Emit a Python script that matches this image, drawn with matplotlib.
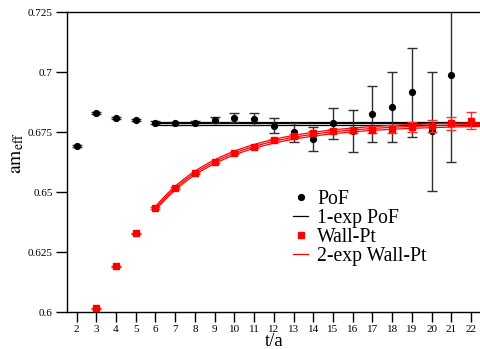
import numpy as np
import matplotlib
matplotlib.use("Agg")
import matplotlib.pyplot as plt
from matplotlib.lines import Line2D

plt.rcParams['font.family'] = ['Liberation Serif', 'DejaVu Serif']
plt.rcParams['mathtext.fontset'] = 'stix'

# PoF data
t_pof = [2, 3, 4, 5, 6, 7, 8, 9, 10, 11, 12, 13, 14, 15, 16, 17, 18, 19, 20, 21]
m_pof = [0.6693, 0.6828, 0.6807, 0.6800, 0.6789, 0.6786, 0.6786, 0.6799, 0.6810, 0.6804,
         0.6776, 0.6749, 0.6719, 0.6786, 0.6755, 0.6825, 0.6855, 0.6915, 0.6754, 0.6986]
e_pof = [0.0004, 0.0004, 0.0004, 0.0004, 0.0005, 0.0006, 0.0008, 0.0013, 0.0020, 0.0024,
         0.0031, 0.0040, 0.0050, 0.0064, 0.0087, 0.0117, 0.0147, 0.0184, 0.0248, 0.0360]

# Wall-Pt data
t_wall = [3, 4, 5, 6, 7, 8, 9, 10, 11, 12, 13, 14, 15, 16, 17, 18, 19, 20, 21, 22]
m_wall = [0.6015, 0.6190, 0.6328, 0.6433, 0.6516, 0.6578, 0.6625, 0.6661, 0.6689, 0.6715,
          0.6735, 0.6747, 0.6754, 0.6757, 0.6760, 0.6763, 0.6770, 0.6775, 0.6786, 0.6797]
e_wall = [0.0003, 0.0003, 0.0003, 0.0003, 0.0003, 0.0003, 0.0004, 0.0004, 0.0005, 0.0006,
          0.0007, 0.0008, 0.0009, 0.0011, 0.0013, 0.0016, 0.0020, 0.0023, 0.0028, 0.0036]

# 1-exp PoF fit (constant) over t = 6..22.5
fit1_range = (6, 22.5)
fit1_E0, fit1_err = 0.6786, 0.0007

# 2-exp Wall-Pt fit parameters over t = 6..22.5
fit2_range = (6, 22.5)
fit2_E0, fit2_err, fit2_dE, fit2_r = 0.6787, 0.0008, 0.24, -0.612

x_ticks = list(range(2, 23))
y_ticks = [0.6, 0.625, 0.65, 0.675, 0.7, 0.725]
y_ticklabels = ['0.6', '0.625', '0.65', '0.675', '0.7', '0.725']
legend_labels = ['PoF', '1-exp PoF', 'Wall-Pt', '2-exp Wall-Pt']

fig = plt.figure(figsize=(4.8, 3.49), dpi=100)
ax = fig.add_axes([66.7/480, 37/349, (481-66.7)/480, 300/349])

ax.errorbar(t_pof, m_pof, yerr=e_pof, fmt='o', color='black', ms=4.2,
            ecolor='#303030', elinewidth=1.0, capsize=3.5, capthick=1.0, zorder=3)
for s in (-1, 0, 1):
    ax.plot(fit1_range, [fit1_E0 + s*fit1_err]*2, color='black', lw=0.9, zorder=2)

ax.errorbar(t_wall, m_wall, yerr=e_wall, fmt='s', color='#ff0000', ms=4.2,
            ecolor='#ff3030', elinewidth=1.0, capsize=3.5, capthick=1.0, zorder=4)
tt = np.linspace(fit2_range[0], fit2_range[1], 300)
def meff(t, E0):
    return E0 + np.log((1 + fit2_r*np.exp(-fit2_dE*t)) / (1 + fit2_r*np.exp(-fit2_dE*(t+1))))
for s in (-1, 0, 1):
    ax.plot(tt, meff(tt, fit2_E0 + s*fit2_err), color='#ff0000', lw=0.9, zorder=3)

handles = [Line2D([], [], marker='o', ls='none', color='black', ms=4.2),
           Line2D([], [], color='black', lw=0.9),
           Line2D([], [], marker='s', ls='none', color='#ff0000', ms=4.2),
           Line2D([], [], color='#ff0000', lw=0.9)]
ax.legend(handles, legend_labels, loc='upper left', bbox_to_anchor=(0.512, 0.452),
          frameon=False, fontsize=14.2, handlelength=0.8, handletextpad=0.45,
          labelspacing=0.0, borderpad=0.2)

ax.set_xlim(1.5, 22.5)
ax.set_ylim(0.6, 0.725)
ax.set_xticks(x_ticks)
ax.set_xticklabels([str(v) for v in x_ticks])
ax.set_yticks(y_ticks)
ax.set_yticklabels(y_ticklabels)
ax.tick_params(axis='both', direction='out', labelsize=8, width=1, length=7,
               color='black', pad=2)
ax.tick_params(axis='y', length=8)
ax.spines['right'].set_visible(False)
for sp in ('left', 'bottom', 'top'):
    ax.spines[sp].set_linewidth(1.0)

ax.set_xlabel('t/a', fontsize=13.5)
ax.xaxis.set_label_coords(0.5, -0.07)
ax.set_ylabel(r'$\mathrm{am}_{\mathrm{eff}}$', fontsize=14)
ax.yaxis.set_label_coords(-0.098, 0.53)

fig.savefig('out.png', dpi=100)
